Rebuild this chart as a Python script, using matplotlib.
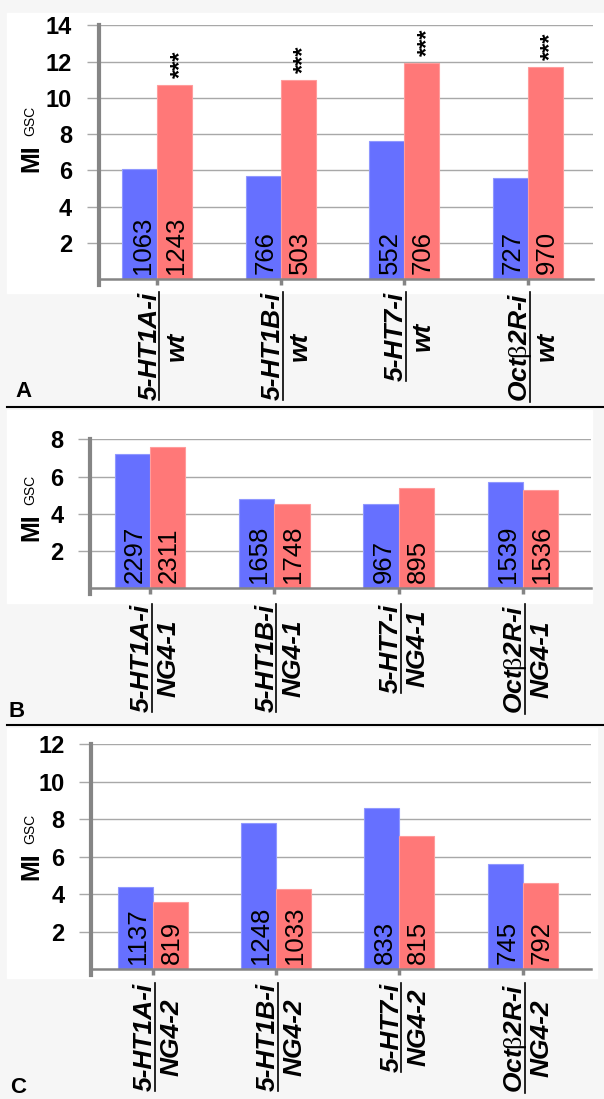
import numpy as np
import matplotlib
matplotlib.use("Agg")
import matplotlib.pyplot as plt
from matplotlib.lines import Line2D
from matplotlib.patches import Rectangle
from matplotlib.transforms import IdentityTransform

plt.rcParams["font.family"] = "Liberation Sans"
plt.rcParams["mathtext.fontset"] = "custom"
plt.rcParams["mathtext.rm"] = "Liberation Serif"
plt.rcParams["mathtext.sf"] = "Liberation Sans"

# genotypes (numerator) and controls (denominator)
genes = ["5-HT1A-i", "5-HT1B-i", "5-HT7-i", r"Oct$\mathrm{β}$2R-i"]
controls = ["wt", "NG4-1", "NG4-2"]

# panel A : RNAi / wt
a_rnai = [6.1, 5.7, 7.6, 5.6]
a_ctrl = [10.7, 11.0, 11.9, 11.7]
a_n_rnai = [1063, 766, 552, 727]
a_n_ctrl = [1243, 503, 706, 970]
a_stars = ["***", "***", "***", "***"]

# panel B : RNAi / NG4-1
b_rnai = [7.2, 4.8, 4.5, 5.7]
b_ctrl = [7.6, 4.5, 5.4, 5.3]
b_n_rnai = [2297, 1658, 967, 1539]
b_n_ctrl = [2311, 1748, 895, 1536]

# panel C : RNAi / NG4-2
c_rnai = [4.4, 7.8, 8.6, 5.6]
c_ctrl = [3.6, 4.3, 7.1, 4.6]
c_n_rnai = [1137, 1248, 833, 745]
c_n_ctrl = [819, 1033, 815, 792]

W, H = 604, 1099
blue, red = "#6670ff", "#ff7878"
axcol, gridcol = "#858585", "#a8a8a8"
px = IdentityTransform()


def fbox(l, t, r, b):
    return [l / W, (H - b) / H, (r - l) / W, (b - t) / H]


fig = plt.figure(figsize=(W / 100, H / 100), dpi=100, facecolor="#f6f6f6")

# white backgrounds of the three panels
for (l, t, r, b) in [(7, 13, 604, 293), (7, 410, 592, 603), (7, 728, 597, 978)]:
    fig.add_artist(Rectangle((l / W, (H - b) / H), (r - l) / W, (b - t) / H,
                             transform=fig.transFigure, color="white", zorder=0))

# separators
for yy in [407, 725]:
    fig.add_artist(Line2D([7 / W, 1], [(H - yy) / H] * 2, transform=fig.transFigure,
                          color="black", lw=1.5))

panels = [
    dict(box=(98.5, 25.3, 593, 279.3), ymax=14, xlim=(-0.477, 3.53), rnai=a_rnai, ctrl=a_ctrl,
         nr=a_n_rnai, nc=a_n_ctrl, stars=a_stars, den=controls[0], lab_top=292,
         mi_y=172, letter="A", letter_xy=(15, 397)),
    dict(box=(90, 439.3, 591, 588.3), ymax=8, xlim=(-0.483, 3.548), rnai=b_rnai, ctrl=b_ctrl,
         nr=b_n_rnai, nc=b_n_ctrl, stars=None, den=controls[1], lab_top=604,
         mi_y=541, letter="B", letter_xy=(9, 717)),
    dict(box=(91, 744, 591, 969.3), ymax=12, xlim=(-0.50, 3.555), rnai=c_rnai, ctrl=c_ctrl,
         nr=c_n_rnai, nc=c_n_ctrl, stars=None, den=controls[2], lab_top=983,
         mi_y=880, letter="C", letter_xy=(10, 1093)),
]

x = np.arange(len(genes))
w = 0.284
label_sets = []

for p in panels:
    ax = fig.add_axes(fbox(*p["box"]))
    ax.set_facecolor("none")
    ax.set_xlim(*p["xlim"])
    ax.set_ylim(0, p["ymax"])
    ax.bar(x - w / 2, p["rnai"], w, color=blue, edgecolor="#9098ff", lw=0.8, zorder=2)
    ax.bar(x + w / 2, p["ctrl"], w, color=red, edgecolor="#ff9c9c", lw=0.8, zorder=2)

    for xi, n1, n2 in zip(x, p["nr"], p["nc"]):
        ax.annotate(str(n1), xy=(xi - w / 2, 0), xytext=(2, 4), textcoords="offset points",
                    rotation=90, ha="center", va="bottom", fontsize=18.5, zorder=3)
        ax.annotate(str(n2), xy=(xi + w / 2, 0), xytext=(1, 4), textcoords="offset points",
                    rotation=90, ha="center", va="bottom", fontsize=18.5, zorder=3)
    if p["stars"]:
        for xi, v, s in zip(x, p["ctrl"], p["stars"]):
            ax.annotate(s, xy=(xi + w / 2, v), xytext=(4, 5), textcoords="offset points",
                        rotation=90, ha="center", va="bottom", fontsize=17,
                        fontweight="bold")

    yt = np.arange(2, p["ymax"] + 1, 2)
    ax.set_yticks(yt, labels=[str(v) for v in yt], fontsize=17, fontweight="bold")
    ax.tick_params(axis="y", length=8.6, width=1, color=gridcol, pad=10.5)
    ax.set_xticks(x, labels=[""] * len(x))
    ax.tick_params(axis="x", length=4.5, width=2.5, color=axcol)
    ax.yaxis.grid(True, color=gridcol, lw=1)
    ax.set_axisbelow(True)
    for s in ["top", "right"]:
        ax.spines[s].set_visible(False)
    unit = (p["box"][3] - p["box"][1]) / p["ymax"]
    ax.spines["left"].set_bounds(-6 / unit, p["ymax"])
    ax.spines["left"].set_color(axcol)
    ax.spines["left"].set_linewidth(3)
    ax.spines["bottom"].set_color(axcol)
    ax.spines["bottom"].set_linewidth(1.8)

    # y label MI^GSC
    fig.text(38, H - p["mi_y"], "MI", transform=px, rotation=90, rotation_mode="anchor",
             ha="left", va="baseline", fontsize=18, fontweight="bold")
    fig.text(34, H - p["mi_y"] + 36, "GSC", transform=px, rotation=90, rotation_mode="anchor",
             ha="left", va="baseline", fontsize=10)

    fig.text(p["letter_xy"][0], H - p["letter_xy"][1], p["letter"], transform=px,
             ha="left", va="baseline", fontsize=16, fontweight="bold")

    # numerators of the genotype labels
    nums = []
    for xi, g in zip(x, genes):
        xd = ax.transData.transform((xi, 0))[0]
        t = fig.text(xd - 1, H - p["lab_top"], g, transform=px, rotation=90,
                     rotation_mode="anchor", ha="right", va="baseline", fontsize=19,
                     fontweight="bold", fontstyle="italic")
        nums.append((xd, t))
    label_sets.append((nums, p["den"]))

fig.canvas.draw()
r = fig.canvas.get_renderer()
for nums, den in label_sets:
    for xd, t in nums:
        bb = t.get_window_extent(r)
        xl = xd + 2
        fig.add_artist(Line2D([xl, xl], [bb.y0, bb.y1], transform=px, color="black", lw=1.2))
        fig.text(xl + 5, (bb.y0 + bb.y1) / 2, den, transform=px, rotation=90,
                 rotation_mode="anchor", ha="center", va="top", fontsize=19,
                 fontweight="bold", fontstyle="italic")

fig.savefig("out.png", dpi=100, facecolor=fig.get_facecolor())
